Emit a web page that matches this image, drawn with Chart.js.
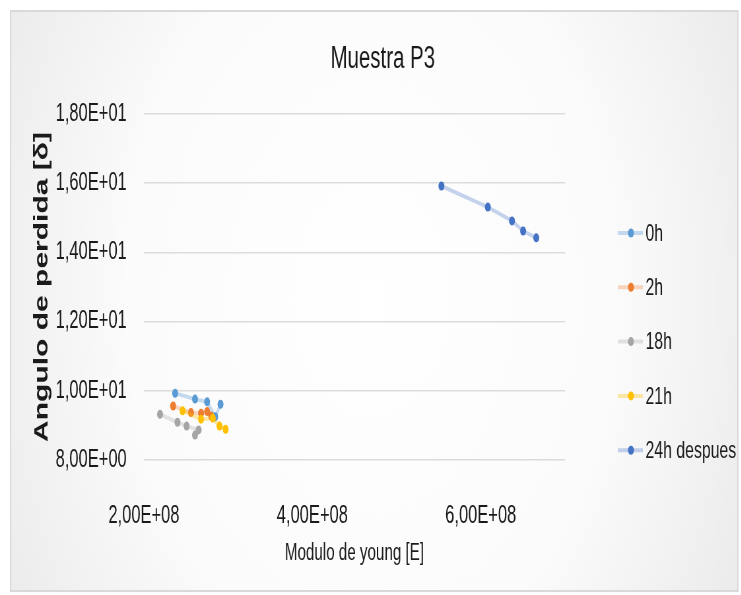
<!DOCTYPE html>
<html>
<head>
<meta charset="utf-8">
<script src="https://cdn.jsdelivr.net/npm/chart.js@4.4.1/dist/chart.umd.min.js"></script>
<style>
  html, body { margin: 0; padding: 0; overflow: hidden; background: #fff; }
  /* the reference picture is squeezed sideways, so the chart is drawn wide and squeezed the same way */
  #wrap { width: 1123px; height: 595px; transform: scaleX(0.66); transform-origin: 0 0; }
</style>
</head>
<body>
<div id="wrap"><canvas id="p3Chart"></canvas></div>
<script>
const seriesNames = ['0h', '2h', '18h', '21h', '24h despues'];

const x0h = [2.371e8, 2.607e8, 2.751e8, 2.847e8, 2.910e8];
const y0h = [9.93, 9.76, 9.68, 9.25, 9.61];
const x2h = [2.347e8, 2.559e8, 2.679e8, 2.751e8, 2.800e8];
const y2h = [9.56, 9.37, 9.35, 9.40, 9.27];
const x18h = [2.192e8, 2.399e8, 2.507e8, 2.650e8, 2.607e8];
const y18h = [9.32, 9.09, 8.98, 8.87, 8.72];
const x21h = [2.459e8, 2.679e8, 2.818e8, 2.898e8, 2.970e8];
const y21h = [9.42, 9.18, 9.21, 8.98, 8.89];
const x24h = [5.533e8, 6.084e8, 6.371e8, 6.503e8, 6.659e8];
const y24h = [15.92, 15.31, 14.91, 14.62, 14.42];

const xTicks = [2e8, 4e8, 6e8];
const yTicks = [8, 10, 12, 14, 16, 18];

const pointColors = ['#5b9bd5', '#ed7d31', '#a5a5a5', '#ffc000', '#4472c4'];
const lineColors = ['rgba(91,155,213,0.35)', 'rgba(237,125,49,0.3)', 'rgba(165,165,165,0.3)',
                    'rgba(255,192,0,0.35)', 'rgba(68,114,196,0.3)'];

const xs = [x0h, x2h, x18h, x21h, x24h];
const ys = [y0h, y2h, y18h, y21h, y24h];

// 1.80e+1 -> 1,80E+01
function sci(v) {
    const parts = Number(v).toExponential(2).split('e');
    const exp = parseInt(parts[1], 10);
    return parts[0].replace('.', ',') + 'E' + (exp < 0 ? '-' : '+') + String(Math.abs(exp)).padStart(2, '0');
}

const FONT = "'Liberation Sans', Arial, sans-serif";

const frame = {
    id: 'frame',
    beforeDraw(chart) {
        const ctx = chart.ctx;
        const w = chart.width, h = chart.height;
        ctx.save();
        ctx.fillStyle = '#fff';
        ctx.fillRect(0, 0, w, h);
        const g = ctx.createRadialGradient(w / 2, h / 2, 0, w / 2, h / 2, w * 0.55);
        g.addColorStop(0, '#ffffff');
        g.addColorStop(0.6, '#fbfbfb');
        g.addColorStop(1, '#ececec');
        ctx.fillStyle = g;
        ctx.fillRect(16, 11, w - 21, h - 15);
        ctx.strokeStyle = '#d9d9d9';
        ctx.lineWidth = 2;
        ctx.strokeRect(16, 11, w - 21, h - 15);
        ctx.restore();
    },
    afterDraw(chart) {
        const ctx = chart.ctx;
        ctx.save();
        ctx.fillStyle = '#1a1a1a';
        ctx.font = '31px ' + FONT;
        ctx.textAlign = 'center';
        ctx.textBaseline = 'middle';
        ctx.fillText('Muestra P3', 580, 59);

        // legend: pale line with a dot, then the name
        ctx.font = '24px ' + FONT;
        ctx.textAlign = 'left';
        chart.data.datasets.forEach((ds, i) => {
            const y = 233 + i * 54.3;
            ctx.strokeStyle = ds.borderColor;
            ctx.lineWidth = 4;
            ctx.beginPath();
            ctx.moveTo(936, y);
            ctx.lineTo(974, y);
            ctx.stroke();
            ctx.fillStyle = ds.pointBackgroundColor;
            ctx.beginPath();
            ctx.arc(956, y, 4.5, 0, Math.PI * 2);
            ctx.fill();
            ctx.fillStyle = '#1a1a1a';
            ctx.fillText(ds.label, 978, y + 1);
        });
        ctx.restore();
    }
};

new Chart(document.getElementById('p3Chart'), {
    type: 'scatter',
    data: {
        datasets: seriesNames.map((name, i) => ({
            label: name,
            data: xs[i].map((x, j) => ({ x: x, y: ys[i][j] })),
            showLine: true,
            borderColor: lineColors[i],
            borderWidth: 4,
            pointBackgroundColor: pointColors[i],
            pointBorderWidth: 0,
            pointRadius: 4.5,
            order: seriesNames.length - i
        }))
    },
    options: {
        responsive: true,
        maintainAspectRatio: false,
        animation: false,
        layout: { padding: { left: 30, right: 267, top: 114, bottom: 20 } },
        plugins: {
            legend: { display: false },
            tooltip: { enabled: false }
        },
        scales: {
            x: {
                type: 'linear',
                min: 2e8,
                max: 7e8,
                afterBuildTicks: scale => { scale.ticks = xTicks.map(v => ({ value: v })); },
                afterFit: scale => { scale.height = 115; },
                grid: { display: false },
                border: { display: false },
                ticks: {
                    padding: 33,
                    font: { size: 25, family: FONT },
                    color: '#1a1a1a',
                    maxRotation: 0,
                    callback: v => sci(v)
                },
                title: {
                    display: true,
                    text: 'Modulo de young [E]',
                    font: { size: 23, family: FONT },
                    color: '#1a1a1a',
                    padding: { top: 0, bottom: 8 }
                }
            },
            y: {
                min: 8,
                max: 18,
                afterBuildTicks: scale => { scale.ticks = yTicks.map(v => ({ value: v })); },
                afterFit: scale => { scale.width = 218 - 30; },
                grid: { color: '#dcdcdc', lineWidth: 1.5, drawTicks: false },
                border: { display: false },
                ticks: {
                    padding: 26,
                    font: { size: 25, family: FONT },
                    color: '#1a1a1a',
                    callback: v => sci(v)
                },
                title: {
                    display: true,
                    text: 'Angulo de perdida [δ]',
                    font: { size: 30, weight: 'bold', family: FONT },
                    color: '#1a1a1a',
                    padding: { top: 16, bottom: 0 }
                }
            }
        }
    },
    plugins: [frame]
});
</script>
</body>
</html>
